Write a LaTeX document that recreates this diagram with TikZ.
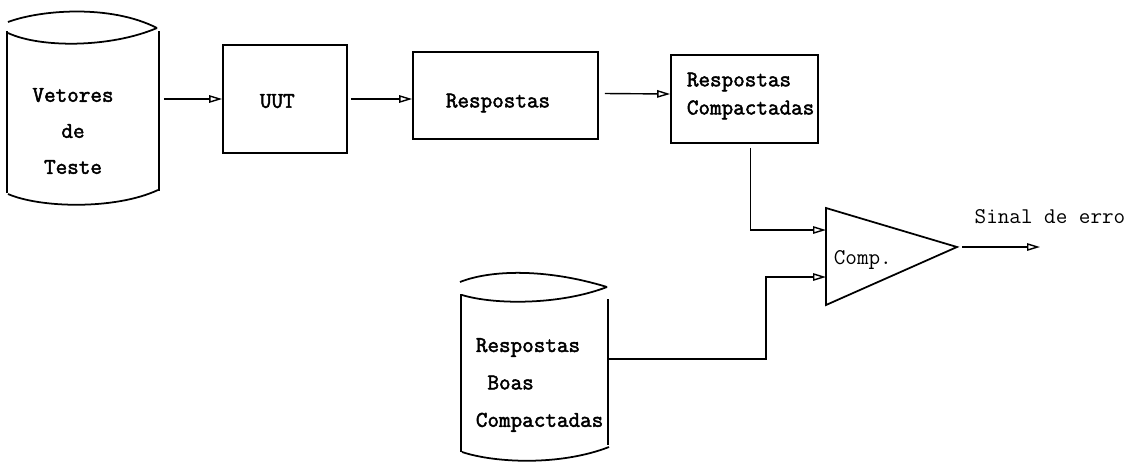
\documentclass[tikz,border=0pt]{standalone}
\usepackage{fontspec}
\setmonofont{Latin Modern Mono}[AutoFakeBold=2.2]
\usetikzlibrary{arrows.meta,calc}

\tikzset{
	blk/.style={draw, line width=1pt, inner sep=0pt},
	flow/.style={line width=0.8pt, -{Triangle[open,length=2.6mm,width=1.5mm]}},
	lbl/.style={font=\fontsize{12.8}{20.5}\selectfont\ttfamily\bfseries, inner sep=0pt},
	txt/.style={font=\fontsize{12.8}{14}\selectfont\ttfamily, inner sep=0pt},
}

\begin{document}
\begin{tikzpicture}[x=0.02cm, y=-0.02cm, line width=1pt]
		%%%%% START %%%%%
		\useasboundingbox (0,0) rectangle (1130,464);
		
		% test vectors (storage)
		\node[inner sep=0pt, minimum width=3cm, minimum height=3.2cm] (vet) at (83,112) {};
		\draw (8,22) .. controls (40,10) and (110,4) .. (157,28);
		\draw (8,33) .. controls (40,48) and (110,48) .. (157,28);
		\draw (vet.north west) -- (vet.south west);
		\draw (vet.north east) -- ([yshift=0.04cm]vet.south east);
		\draw (8,194) .. controls (40,208) and (115,210) .. (158,190);
		\node[lbl, align=center] (vet-t) at (73,131) {Vetores\\de\\Teste};
		
		% blocks
		\node[blk, minimum width=2.48cm, minimum height=2.16cm] (uut) at (285,99) {};
		\node[lbl, anchor=west] (uut-t) at (259,101) {UUT};
		
		\node[blk, minimum width=3.7cm, minimum height=1.74cm] (resp) at (505.5,95.5) {};
		\node[lbl, anchor=west] (resp-t) at (445,103) {Respostas};
		
		\node[blk, minimum width=2.94cm, minimum height=1.76cm] (rc) at (744.5,99) {};
		\node[lbl, anchor=west, align=left, font=\fontsize{12.8}{16}\selectfont\ttfamily\bfseries] (rc-t) at (686,96) {Respostas\\Compactadas};
		
		% good responses (storage)
		\node[inner sep=0pt, minimum width=2.9cm, minimum height=3.12cm] (boas) at (534.5,373) {};
		\draw (460,282) .. controls (490,270) and (545,268) .. (607,287);
		\draw (462,295) .. controls (495,305) and (560,305) .. (607,287);
		\draw (boas.north west) -- (boas.south west);
		\draw ([yshift=-0.1cm]boas.north east) -- ([yshift=0.14cm]boas.south east);
		\draw (462,452) .. controls (495,463) and (560,466) .. (609,447);
		\node[lbl, anchor=west, align=left, font=\fontsize{12.8}{21.3}\selectfont\ttfamily\bfseries] (boas-t) at (475,385) {Respostas\\~Boas\\Compactadas};
		
		% comparator
		\draw (826,208) -- (957,247) -- (826,305) -- cycle;
		\coordinate (in1) at (826,230);
		\coordinate (in2) at (826,277);
		\coordinate (out) at (957,247);
		\coordinate (err) at (1040,247);
		\node[txt, anchor=west] (cmp) at (833,260) {Comp.};
		\node[txt] (sig) at (1050,217) {Sinal de erro};
		
		% connections
		\draw[flow] ($(vet.east |- uut)+(5,0)$) -- (uut.west);
		\draw[flow] ($(uut.east)+(3,0)$) -- (uut.east -| resp.west);
		\draw[flow] ($(resp.east)+(6,-2)$) -- ($(rc.west)+(0,-5)$);
		\draw[flow] ($(rc.south)+(6,4)$) |- (in1);
		\draw[flow] ($(boas.east)+(0,-14)$) -| ($(in2)+(-60,0)$) -- (in2);
		\draw[flow] ($(out)+(5,0)$) -- (err);
		
		%%%%% END %%%%%
\end{tikzpicture}
\end{document}
